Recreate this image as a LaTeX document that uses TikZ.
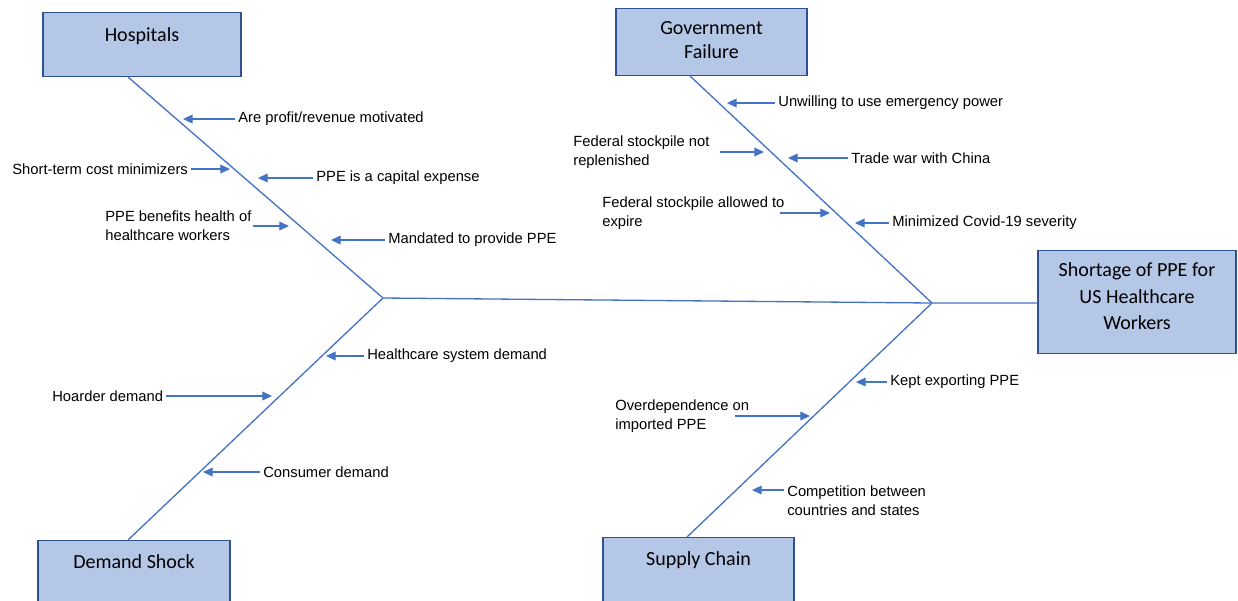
\documentclass[tikz,border=0pt]{standalone}
\usepackage{fontspec}
\setmainfont{Liberation Sans}
\newfontfamily\calibri{Carlito}
\usetikzlibrary{arrows.meta, calc}
\definecolor{boxfill}{RGB}{180, 199, 231}
\definecolor{boxedge}{RGB}{47, 82, 143}
\definecolor{boneblue}{RGB}{68, 114, 196}

\begin{document}
\begin{tikzpicture}[x=0.02cm, y=-0.02cm,
  cat/.style={draw=boxedge, line width=0.8pt, fill=boxfill, anchor=north, inner sep=0pt, align=center, font=\calibri\fontsize{11.4}{14}\selectfont},
  bone/.style={draw=boneblue, line width=0.75pt},
  cause/.style={draw=boneblue, line width=0.6pt, -{Triangle[length=5.5pt, width=5pt]}},
  lbl/.style={inner sep=1.7pt, align=left, font=\fontsize{8.4}{11}\selectfont}]
  \useasboundingbox (0,0) rectangle (1238,600);

  % Category boxes
  \node[cat, minimum width=3.96cm, text height=16.4pt, text depth=19.8pt] (hosp) at (142,12) {Hospitals};
  \node[cat, minimum width=3.82cm, text height=28.3pt, text depth=9.6pt, font=\calibri\fontsize{11.4}{13.6}\selectfont] (govt) at (711.5,8) {Government\\Failure};
  \node[cat, minimum width=3.96cm, text height=44.8pt, text depth=13.6pt, font=\calibri\fontsize{11.4}{15}\selectfont] (short) at (1137,250) {Shortage of PPE for\\US Healthcare\\Workers};
  \node[cat, minimum width=3.84cm, text height=15.9pt, text depth=20pt] (dem) at (134,540) {Demand Shock};
  \node[cat, minimum width=3.82cm, text height=15.9pt, text depth=21pt] (supp) at (698.5,537) {Supply Chain};

  % Spine and bones
  \coordinate (lj) at (383,298);
  \coordinate (rj) at (932,303);
  \draw[bone] ($(hosp.south)+(-14,0)$) -- (lj);
  \draw[bone] ($(dem.north)+(-6,0)$) -- (lj);
  \draw[bone] ($(govt.south)+(-21.5,0)$) -- (rj);
  \draw[bone] ($(supp.north)+(-11.5,0)$) -- (rj);
  \draw[bone] (lj) -- (rj) -- (short.west |- rj);

  % Hospitals causes
  \coordinate (h1) at (183,119);
  \coordinate (h2) at (230,169);
  \coordinate (h3) at (258,178);
  \coordinate (h4) at (289,226);
  \coordinate (h5) at (331,240);
  \node[lbl, anchor=west] (h1t) at (235,119) {Are profit/revenue motivated};
  \node[lbl, anchor=west] (h2t) at (9,169) {Short-term cost minimizers};
  \node[lbl, anchor=west] (h3t) at (313,178) {PPE is a capital expense};
  \node[lbl, anchor=west] (h4t) at (102,226) {PPE benefits health of\\healthcare workers};
  \node[lbl, anchor=west] (h5t) at (385,240) {Mandated to provide PPE};
  \draw[cause] (h1t) -- (h1);
  \draw[cause] (h2t) -- (h2);
  \draw[cause] (h3t) -- (h3);
  \draw[cause] (h4t.east -| 253,0) -- (h4);
  \draw[cause] (h5t) -- (h5);

  % Government causes
  \coordinate (g1) at (727,103);
  \coordinate (g2) at (764,152);
  \coordinate (g3) at (788,158);
  \coordinate (g4) at (830,213);
  \coordinate (g5) at (855,223);
  \node[lbl, anchor=west] (g1t) at (775,103) {Unwilling to use emergency power};
  \node[lbl, anchor=west] (g2t) at (570,152) {Federal stockpile not\\replenished};
  \node[lbl, anchor=west] (g3t) at (848,158) {Trade war with China};
  \node[lbl, anchor=west] (g4t) at (599,213) {Federal stockpile allowed to\\expire};
  \node[lbl, anchor=west] (g5t) at (889,223) {Minimized Covid-19 severity};
  \draw[cause] (g1t) -- (g1);
  \draw[cause] (g2t.east -| 720,0) -- (g2);
  \draw[cause] (g3t) -- (g3);
  \draw[cause] (g4t.east -| 780,0) -- (g4);
  \draw[cause] (g5t) -- (g5);

  % Demand causes
  \coordinate (d1) at (326,356);
  \coordinate (d2) at (272,396);
  \coordinate (d3) at (203,472);
  \node[lbl, anchor=west] (d1t) at (364,356) {Healthcare system demand};
  \node[lbl, anchor=west] (d2t) at (49,396) {Hoarder demand};
  \node[lbl, anchor=west] (d3t) at (260,472) {Consumer demand};
  \draw[cause] (d1t) -- (d1);
  \draw[cause] (d2t) -- (d2);
  \draw[cause] (d3t) -- (d3);

  % Supply causes
  \coordinate (s1) at (856,382);
  \coordinate (s2) at (810,416);
  \coordinate (s3) at (752,490);
  \node[lbl, anchor=west] (s1t) at (887,382) {Kept exporting PPE};
  \node[lbl, anchor=west] (s2t) at (612,416) {Overdependence on\\imported PPE};
  \node[lbl, anchor=west] (s3t) at (784,500.5) {Competition between\\countries and states};
  \draw[cause] (s1t) -- (s1);
  \draw[cause] (s2t.east -| 735,0) -- (s2);
  \draw[cause] (s3t.west |- s3) -- (s3);
\end{tikzpicture}
\end{document}
